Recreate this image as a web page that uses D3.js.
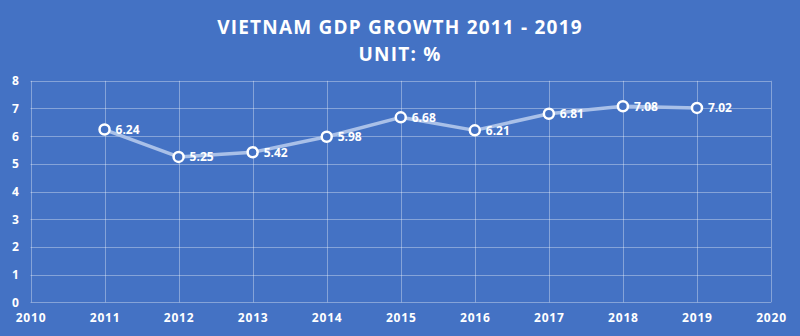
<!DOCTYPE html>
<html><head><meta charset="utf-8">
<script src="https://cdn.jsdelivr.net/npm/d3@7"></script>
<style>
html,body{margin:0;padding:0;background:#4472C4;}
svg{display:block;}
</style></head>
<body>
<script>
const years = [2011, 2012, 2013, 2014, 2015, 2016, 2017, 2018, 2019];
const growth = [6.24, 5.25, 5.42, 5.98, 6.68, 6.21, 6.81, 7.08, 7.02];
const xTicks = [2010, 2011, 2012, 2013, 2014, 2015, 2016, 2017, 2018, 2019, 2020];
const yTicks = [0, 1, 2, 3, 4, 5, 6, 7, 8];
const titleLines = ["VIETNAM GDP GROWTH 2011 - 2019", "UNIT: %"];

const W = 800, H = 336;
const font = "'Open Sans', 'DejaVu Sans', sans-serif";
const svg = d3.select("body").append("svg").attr("width", W).attr("height", H);
svg.append("rect").attr("width", W).attr("height", H).attr("fill", "#4472C4");

const x = d3.scaleLinear().domain([2010, 2020]).range([30.5, 771]);
const y = d3.scaleLinear().domain([0, 8]).range([302.3, 80.8]);

const gridColor = "rgba(255,255,255,0.35)";
// grid
svg.append("g").selectAll("line").data(yTicks).join("line")
  .attr("x1", x(2010)).attr("x2", x(2020))
  .attr("y1", d => Math.round(y(d)) + 0.5).attr("y2", d => Math.round(y(d)) + 0.5)
  .attr("stroke", gridColor).attr("stroke-width", 1);
svg.append("g").selectAll("line").data(xTicks).join("line")
  .attr("x1", d => Math.round(x(d)) + 0.5).attr("x2", d => Math.round(x(d)) + 0.5)
  .attr("y1", y(0)).attr("y2", y(8))
  .attr("stroke", gridColor).attr("stroke-width", 1);

// axes labels via d3 axes
const xAxis = svg.append("g").attr("transform", `translate(0,${y(0)})`)
  .call(d3.axisBottom(x).tickValues(xTicks).tickFormat(d3.format("d")).tickSize(0).tickPadding(11));
const yAxis = svg.append("g").attr("transform", `translate(${x(2010)},0)`)
  .call(d3.axisLeft(y).tickValues(yTicks).tickFormat(d3.format("d")).tickSize(0).tickPadding(11));
[xAxis, yAxis].forEach(g => {
  g.select(".domain").remove();
  g.selectAll("text").attr("fill", "#fff").attr("font-family", font)
    .attr("font-weight", "bold").attr("font-size", 12);
});
xAxis.selectAll("text").attr("letter-spacing", 0.8);
yAxis.selectAll("text").attr("text-anchor", "middle").attr("x", -15);

// title
svg.append("g").selectAll("text").data(titleLines).join("text")
  .attr("x", W / 2).attr("y", (d, i) => 34 + i * 27)
  .attr("text-anchor", "middle").attr("fill", "#fff")
  .attr("font-family", font).attr("font-weight", "bold")
  .attr("font-size", 19).attr("letter-spacing", 1.2)
  .text(d => d);

// line
const data = years.map((yr, i) => ({ yr, v: growth[i] }));
svg.append("path").datum(data)
  .attr("fill", "none").attr("stroke", "#A9C0E8").attr("stroke-width", 3.5)
  .attr("stroke-linejoin", "round").attr("stroke-linecap", "round")
  .attr("d", d3.line().x(d => x(d.yr)).y(d => y(d.v)));

svg.append("g").selectAll("circle").data(data).join("circle")
  .attr("cx", d => x(d.yr)).attr("cy", d => y(d.v)).attr("r", 5)
  .attr("fill", "#4472C4").attr("stroke", "#fff").attr("stroke-width", 2.5);

svg.append("g").selectAll("text").data(data).join("text")
  .attr("x", d => x(d.yr) + 11).attr("y", d => y(d.v) + 4.5)
  .attr("fill", "#fff").attr("font-family", font).attr("font-weight", "bold")
  .attr("font-size", 12)
  .text(d => d3.format(".2f")(d.v));
</script>
</body></html>
